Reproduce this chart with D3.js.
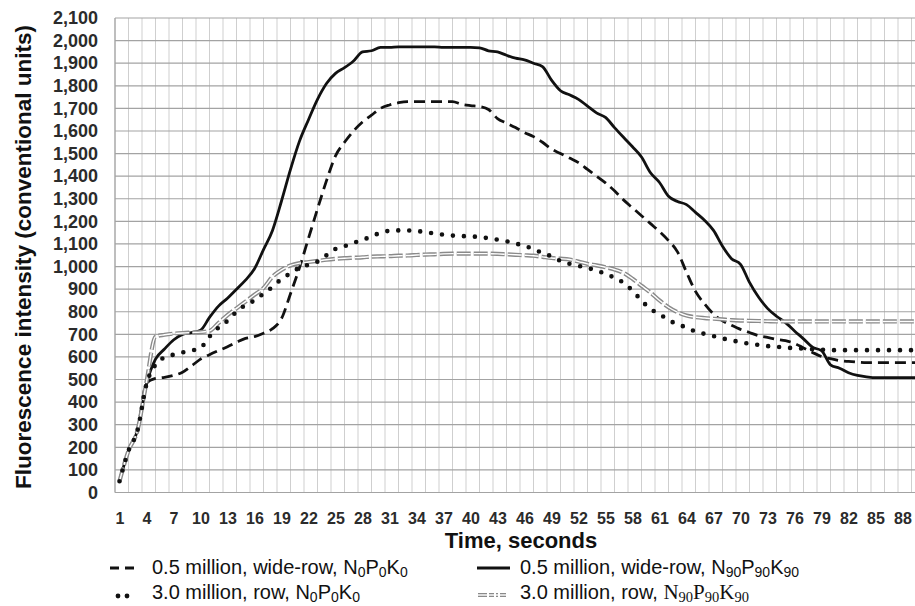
<!DOCTYPE html>
<html><head><meta charset="utf-8">
<script src="https://cdn.jsdelivr.net/npm/d3@7"></script>
<style>body{margin:0;background:#fff}svg{display:block}</style>
</head><body><svg id="c" width="915" height="606"></svg>
<script>
// ---- data ----
const time = d3.range(1, 91); // seconds 1..90
const xTickLabels = d3.range(1, 89, 3);
const yTickLabels = d3.range(0, 2101, 100);

const wide0 = [50,185,275,485,505,510,518,532,560,590,610,628,645,665,682,690,705,725,770,880,
 995,1125,1255,1380,1490,1550,1600,1640,1670,1700,1715,1725,1730,1730,1730,1730,1730,1730,1718,1712,
 1708,1695,1655,1635,1615,1593,1575,1550,1520,1500,1480,1460,1430,1400,1370,1335,1295,1260,1225,1190,
 1155,1115,1065,975,890,835,790,760,740,722,708,694,686,678,672,660,640,620,602,592,
 584,580,577,575,575,575,575,575,575,575];
const wide90 = [50,185,275,480,590,635,675,700,708,718,775,825,860,900,940,990,1075,1160,1290,1430,
 1555,1650,1740,1810,1855,1880,1910,1950,1955,1970,1970,1972,1972,1972,1972,1972,1970,1970,1970,1970,
 1968,1955,1950,1935,1922,1915,1900,1885,1825,1778,1760,1740,1710,1680,1660,1615,1572,1530,1485,1415,
 1372,1311,1288,1274,1240,1205,1160,1090,1035,1010,930,865,815,780,752,715,680,643,628,565,
 550,530,518,512,508,508,508,508,508,508];
const row0 = [50,185,275,480,565,598,610,620,628,640,690,730,760,800,830,850,880,910,945,970,
 995,1008,1022,1050,1078,1090,1105,1118,1133,1150,1158,1160,1160,1157,1153,1146,1141,1137,1135,1133,
 1131,1125,1119,1112,1102,1092,1077,1060,1045,1025,1012,1003,994,982,968,950,928,893,850,812,
 790,763,745,730,712,702,692,682,674,665,658,653,648,645,641,639,637,634,632,630,
 630,630,630,630,630,630,630,630,630,630];
const row90 = [50,185,275,490,690,698,703,706,708,710,715,750,785,815,845,875,905,955,985,1005,
 1015,1020,1025,1030,1034,1037,1039,1041,1044,1045,1046,1048,1049,1051,1053,1054,1056,1057,1057,1057,
 1057,1057,1056,1054,1052,1050,1048,1043,1038,1035,1031,1022,1012,1005,997,987,972,946,915,885,
 850,820,798,783,776,772,769,766,763,761,760,759,758,757,757,757,757,757,757,757,
 757,757,757,757,757,757,757,757,757,757];

const xTitle = "Time, seconds";
const yTitle = "Fluorescence intensity (conventional units)";

// ---- layout ----
const svg = d3.select("#c");
const L = 115, T = 18, B = 492.5;
const x = d3.scaleLinear().domain([0.5, 90.5]).range([L, L + 810]);
const y = d3.scaleLinear().domain([0, 2100]).range([B, T]);
const R = 915;

// vertical gridlines
const vg = d3.range(0.5, 90.6, 1.5);
svg.append("g").selectAll("line").data(vg).join("line")
  .attr("x1", d => x(d)).attr("x2", d => x(d))
  .attr("y1", T).attr("y2", B)
  .attr("stroke", "#cfcfcf").attr("stroke-width", 1);
// horizontal gridlines
svg.append("g").selectAll("line").data(yTickLabels).join("line")
  .attr("x1", L).attr("x2", R)
  .attr("y1", d => y(d)).attr("y2", d => y(d))
  .attr("stroke", "#a3a3a3").attr("stroke-width", 1.2);
svg.append("line").attr("x1", L).attr("x2", L).attr("y1", T).attr("y2", B)
  .attr("stroke", "#a3a3a3").attr("stroke-width", 1.2);

// axes
const yAxis = svg.append("g").attr("transform", `translate(${L},0)`)
  .call(d3.axisLeft(y).tickValues(yTickLabels).tickFormat(d3.format(",")).tickSize(0).tickPadding(17));
yAxis.select(".domain").remove();
yAxis.selectAll("text").attr("font-family", "Liberation Sans, Arial, sans-serif")
  .attr("font-weight", "bold").attr("font-size", 18).attr("fill", "#2b2b2b");

const xAxis = svg.append("g").attr("transform", `translate(0,${B})`)
  .call(d3.axisBottom(x).tickValues(xTickLabels).tickSize(0).tickPadding(20));
xAxis.select(".domain").remove();
xAxis.selectAll("text").attr("font-family", "Liberation Sans, Arial, sans-serif")
  .attr("font-weight", "bold").attr("font-size", 16).attr("fill", "#2b2b2b");

// titles
svg.append("text").attr("x", 521).attr("y", 548).attr("text-anchor", "middle")
  .attr("font-family", "Liberation Sans, Arial, sans-serif").attr("font-weight", "bold")
  .attr("font-size", 22).attr("fill", "#111").text(xTitle);
svg.append("text").attr("transform", "translate(31,257) rotate(-90)").attr("text-anchor", "middle")
  .attr("font-family", "Liberation Sans, Arial, sans-serif").attr("font-weight", "bold")
  .attr("font-size", 22.5).attr("fill", "#111").text(yTitle);

// lines
const plot = svg.append("g");
const line = d3.line().x((d, i) => x(time[i])).y(d => y(d)).curve(d3.curveMonotoneX);

function drawDouble(g, data) {
  g.append("path").datum(data).attr("d", line).attr("fill", "none")
    .attr("stroke", "#8a8a8a").attr("stroke-width", 4.2).attr("stroke-dasharray", "14,3");
  g.append("path").datum(data).attr("d", line).attr("fill", "none")
    .attr("stroke", "#ffffff").attr("stroke-width", 1.4).attr("stroke-dasharray", "14,3");
}
plot.append("path").datum(wide0).attr("d", line).attr("fill", "none")
  .attr("stroke", "#111").attr("stroke-width", 2.8).attr("stroke-dasharray", "11,6");
plot.append("path").datum(wide90).attr("d", line).attr("fill", "none")
  .attr("stroke", "#111").attr("stroke-width", 2.8);
drawDouble(plot, row90);
plot.append("path").datum(row0).attr("d", line).attr("fill", "none")
  .attr("stroke", "#111").attr("stroke-width", 4.6).attr("stroke-linecap", "round")
  .attr("stroke-dasharray", "0,11");

// legend
const lf = "Liberation Sans, Arial, sans-serif";
function legendText(xp, yp, main, parts, serif, sh) {
  const t = svg.append("text").attr("x", xp).attr("y", yp)
    .attr("font-family", lf).attr("font-size", 20).attr("fill", "#111");
  t.append("tspan").text(main);
  const g = serif ? t.append("tspan").attr("font-family", "Liberation Serif, Times New Roman, serif").attr("font-size", 21) : t;
  parts.forEach(([b, s], k) => {
    const bt = g.append("tspan").text(b);
    if (k > 0) bt.attr("dy", -sh);
    g.append("tspan").attr("font-size", serif ? 14.5 : 14).attr("dy", sh).text(s);
  });
}
const legY1 = 567, legY2 = 593;
svg.append("line").attr("x1", 110).attr("x2", 134).attr("y1", legY1 + 1).attr("y2", legY1 + 1)
  .attr("stroke", "#111").attr("stroke-width", 2.8).attr("stroke-dasharray", "9,6");
legendText(152, legY1 + 7, "0.5 million, wide-row, ", [["N","0"],["P","0"],["K","0"]], false, 3);
svg.append("line").attr("x1", 477).attr("x2", 510).attr("y1", legY1 + 1).attr("y2", legY1 + 1)
  .attr("stroke", "#111").attr("stroke-width", 2.8);
legendText(520, legY1 + 7, "0.5 million, wide-row, ", [["N","90"],["P","90"],["K","90"]], false, 3);
svg.append("g").selectAll("circle").data([118, 127]).join("circle")
  .attr("cx", d => d).attr("cy", legY2 + 3).attr("r", 2.4).attr("fill", "#111");
legendText(152, legY2 + 6, "3.0 million, row, ", [["N","0"],["P","0"],["K","0"]], false, 2.5);
const lg = svg.append("g");
lg.append("line").attr("x1", 478).attr("x2", 506).attr("y1", legY2 + 2).attr("y2", legY2 + 2)
  .attr("stroke", "#8a8a8a").attr("stroke-width", 4.2).attr("stroke-dasharray", "9,2,5,2,2,2");
lg.append("line").attr("x1", 478).attr("x2", 506).attr("y1", legY2 + 2).attr("y2", legY2 + 2)
  .attr("stroke", "#fff").attr("stroke-width", 1.4);
legendText(520, legY2 + 6, "3.0 million, row, ", [["N","90"],["P","90"],["K","90"]], true, 2.5);
</script></body></html>
